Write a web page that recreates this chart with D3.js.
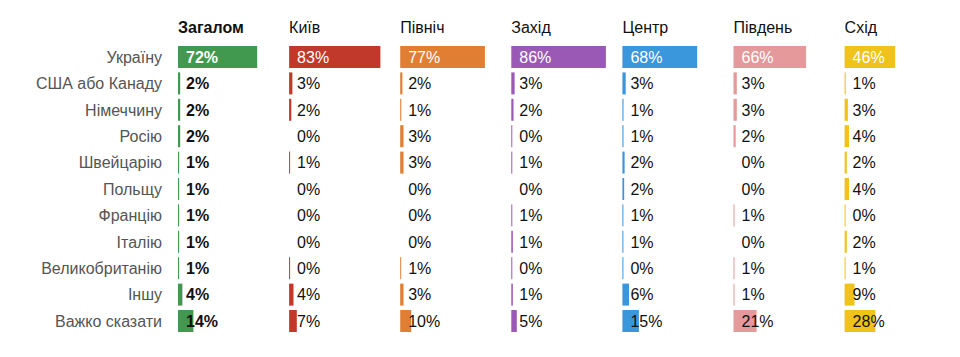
<!DOCTYPE html>
<html>
<head>
<meta charset="utf-8">
<script src="https://cdn.jsdelivr.net/npm/d3@7"></script>
<style>
  html, body { margin: 0; padding: 0; background: #fff; }
  svg { display: block; font-family: Arial, "Liberation Sans", sans-serif; }
</style>
</head>
<body>
<div id="chart"></div>
<script>
const rows = ["Україну", "США або Канаду", "Німеччину", "Росію", "Швейцарію", "Польщу", "Францію", "Італію", "Великобританію", "Іншу", "Важко сказати"];
const columns = ["Загалом", "Київ", "Північ", "Захід", "Центр", "Південь", "Схід"];
const colors = ["#41994f", "#c0392b", "#e07f33", "#9b59b6", "#3a97db", "#e4999b", "#efc319"];

const overall = [72, 2, 2, 2, 1, 1, 1, 1, 1, 4, 14];
const kyiv    = [83, 3, 2, 0, 0.8, 0, 0, 0, 0.3, 4, 7];
const north   = [77, 2, 1, 3, 3, 0, 0, 0, 0.8, 3, 10];
const west    = [86, 3, 2, 0.3, 0.8, 0, 0.7, 1.4, 0.3, 1.4, 5];
const centre  = [68, 3, 1, 1, 2, 1.6, 0.8, 0.8, 0.3, 6, 15];
const south   = [66, 3, 3, 2, 0, 0, 0.7, 0, 0.7, 0.7, 21];
const east    = [46, 1, 3, 4, 2, 4, 0.3, 2, 0.8, 9, 28];

const seriesValues = [overall, kyiv, north, west, centre, south, east];

const W = 960, H = 357;
const svg = d3.select("#chart").append("svg").attr("width", W).attr("height", H);

const y = d3.scaleBand().domain(rows).range([43.8, 334.2]).paddingInner(0.167).paddingOuter(0.083);
const col = d3.scaleBand().domain(columns).range([178, 178 + 7 * 111.1]);
const x = d3.scaleLinear().domain([0, 100]).range([0, 110]);

// row labels
svg.append("g").selectAll("text").data(rows).join("text")
  .attr("x", 162)
  .attr("y", d => y(d) + y.bandwidth() / 2)
  .attr("dy", "0.36em")
  .attr("text-anchor", "end")
  .attr("fill", "#555")
  .attr("font-size", 16)
  .text(d => d);

// headers
svg.append("g").selectAll("text").data(columns).join("text")
  .attr("x", d => col(d))
  .attr("y", 33)
  .attr("fill", "#111")
  .attr("font-size", 16)
  .attr("font-weight", (d, i) => i === 0 ? "bold" : "normal")
  .text(d => d);

columns.forEach((c, ci) => {
  const g = svg.append("g").attr("transform", `translate(${col(c)},0)`);
  const data = rows.map((r, ri) => ({ r, v: seriesValues[ci][ri] }));
  g.selectAll("rect").data(data.filter(d => d.v > 0)).join("rect")
    .attr("x", 0)
    .attr("y", d => y(d.r))
    .attr("width", d => Math.max(1, x(d.v)))
    .attr("height", y.bandwidth())
    .attr("fill", colors[ci]);
  g.selectAll("text").data(data).join("text")
    .attr("x", 8)
    .attr("y", d => y(d.r) + y.bandwidth() / 2)
    .attr("dy", "0.36em")
    .attr("font-size", 16)
    .attr("font-weight", ci === 0 ? "bold" : "normal")
    .attr("fill", d => x(d.v) > 40 ? "#fff" : "#111")
    .text(d => Math.round(d.v) + "%");
});
</script>
</body>
</html>
